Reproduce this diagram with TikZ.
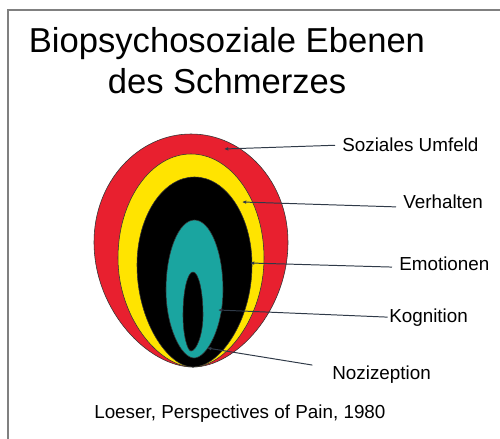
\documentclass[tikz,border=0pt]{standalone}
\usepackage{fontspec}
\setmainfont{Liberation Sans}
\usetikzlibrary{arrows.meta, positioning}

\definecolor{eggred}{HTML}{E8202F}
\definecolor{eggyellow}{HTML}{FFE400}
\definecolor{eggteal}{HTML}{1AA5A0}
\definecolor{connline}{HTML}{2F3A48}

% egg: fill colour, left x, right x, top y, widest y, bottom x, bottom y
\newcommand{\eggshape}[7]{%
  \pgfmathsetmacro{\ecx}{(#2+#3)/2}
  \pgfmathsetmacro{\eup}{#5-0.552*(#5-#4)}
  \pgfmathsetmacro{\edn}{#5+0.55*(#7-#5)}
  \pgfmathsetmacro{\elx}{\ecx-0.552*(\ecx-#2)}
  \pgfmathsetmacro{\erx}{\ecx+0.552*(#3-\ecx)}
  \pgfmathsetmacro{\ebl}{#6-0.45*(#6-#2)}
  \pgfmathsetmacro{\ebr}{#6+0.45*(#3-#6)}
  \filldraw[egg, fill=#1] (#6,#7) .. controls (\ebl,#7) and (#2,\edn) .. (#2,#5)
    .. controls (#2,\eup) and (\elx,#4) .. (\ecx,#4)
    .. controls (\erx,#4) and (#3,\eup) .. (#3,#5)
    .. controls (#3,\edn) and (\ebr,#7) .. (#6,#7) -- cycle;
}

\begin{document}
\begin{tikzpicture}[x=0.025cm, y=-0.025cm,
    egg/.style={draw=black!80, line width=0.4pt},
    lbl/.style={inner xsep=5pt, inner ysep=0pt, anchor=base west, font=\fontsize{13.4}{16}\selectfont},
    titletext/.style={inner sep=0pt, anchor=base, font=\fontsize{24.6}{29}\selectfont},
    conn/.style={draw=connline, line width=0.7pt, -{Latex[length=3pt, width=2.6pt]}}]
    \useasboundingbox (0,0) rectangle (500,439);

    % Frame
    \draw[gray, line width=0.8pt] (8,439) -- (8,10) -- (500,10);

    % Title
    \node[titletext] (title1) at (227,53) {Biopsychosoziale Ebenen};
    \node[titletext] (title2) at (227,94) {des Schmerzes};

    % Nested levels
    \eggshape{eggred}{94}{288}{134}{242}{193}{367}
    \eggshape{eggyellow}{118}{264}{154}{258}{193}{367}
    \eggshape{black}{137}{252}{177}{265}{193}{367}
    \eggshape{eggteal}{166}{223}{220}{290}{194}{358}
    \eggshape{black}{183}{203}{272}{315}{191}{351}

    % Arrow tips
    \coordinate (tipsoz) at (224,149);
    \coordinate (tipverh) at (242,202);
    \coordinate (tipemo) at (250,263);
    \coordinate (tipkog) at (218,310);
    \coordinate (tipnoz) at (207,348);

    % Labels
    \node[lbl] (soz) at (335,152) {Soziales Umfeld};
    \node[lbl] (verh) at (396,208) {Verhalten};
    \node[lbl] (emo) at (392,271) {Emotionen};
    \node[lbl] (kog) at (382,322) {Kognition};
    \node[lbl] (noz) at (325,379) {Nozizeption};

    \draw[conn] (soz.west) -- (tipsoz);
    \draw[conn] ([yshift=-4pt]verh.west) -- (tipverh);
    \draw[conn] ([yshift=-2pt]emo.west) -- (tipemo);
    \draw[conn] ([xshift=4pt]kog.west) -- (tipkog);
    \draw[conn] ([xshift=-9pt]noz.north west) -- (tipnoz);

    % Source
    \node[lbl, inner xsep=0pt] (source) at (94,418) {Loeser, Perspectives of Pain, 1980};
\end{tikzpicture}
\end{document}
